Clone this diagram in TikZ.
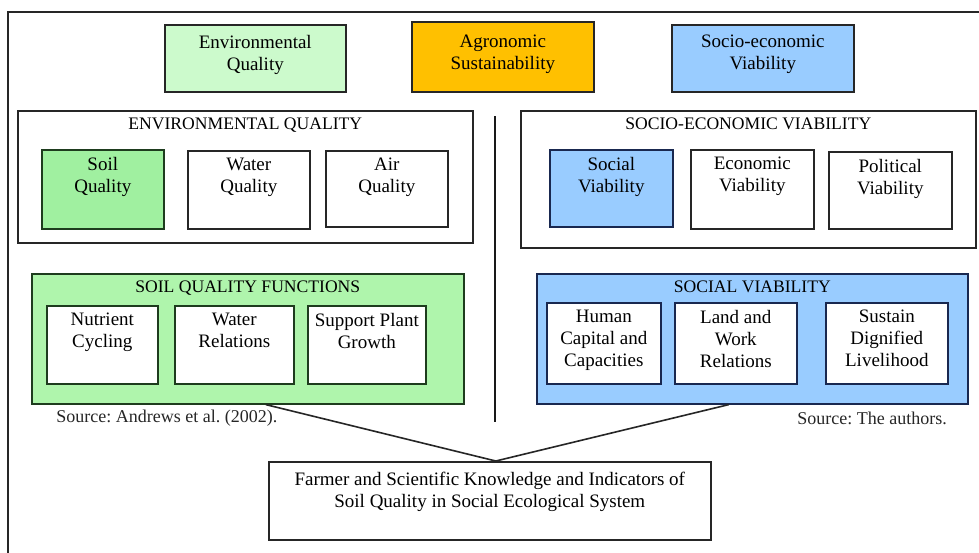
\documentclass[tikz,border=0pt]{standalone}
\usepackage{fontspec}
\setmainfont{Liberation Serif}
\usetikzlibrary{shapes}

\definecolor{envpale}{RGB}{204,250,204}
\definecolor{soilgreen}{RGB}{160,240,160}
\definecolor{soilfun}{RGB}{175,245,172}
\definecolor{agro}{RGB}{255,192,0}
\definecolor{socblue}{RGB}{153,204,255}
\definecolor{greendark}{RGB}{30,60,30}
\definecolor{bluedark}{RGB}{25,40,80}

\tikzset{
	box/.style = {
		draw=black!85,
		line width=0.8pt,
		inner sep=0pt,
		anchor=north west
	},
	size/.style 2 args = {
		minimum width=#1*0.5pt,
		minimum height=#2*0.5pt
	},
	lbl/.style = {
		anchor=north,
		align=center
	},
	txt/.style 2 args = {
		label={[lbl, yshift=#1]north:#2}
	},
	title/.style = {
		label={[lbl, yshift=-0.6pt, font=\fontsize{8.8}{11}\selectfont]north:#1}
	},
	box_green/.style = {
		box,
		draw=greendark,
		every label/.append style={text=greendark}
	},
	box_blue/.style = {
		box,
		draw=bluedark,
		every label/.append style={text=bluedark}
	},
	source/.style = {
		anchor=west,
		inner xsep=0pt,
		text=black!85,
		font=\fontsize{9}{11}\selectfont
	},
	link/.style = {
		line width=0.8pt,
		black!85
	}
}

\begin{document}
\frenchspacing
\begin{tikzpicture}[x=0.5pt, y=-0.5pt, font=\fontsize{9.5}{11}\selectfont]
\clip (0,0) rectangle (979,552);
\fill[white] (0,0) rectangle (979,552);
\draw[line width=1pt, black!85] (8,12) rectangle (1000,580);

% top row
\node[box, size={181}{67}, fill=envpale, txt={-2pt}{Environmental\\Quality}] (top_env) at (164,24) {};
\node[box, size={182}{70}, fill=agro, txt={-3.5pt}{Agronomic\\Sustainability}] (top_agro) at (411,21) {};
\node[box, size={182}{67}, fill=socblue, txt={-2pt}{Socio-economic\\Viability}] (top_soc) at (671,24) {};

% environmental quality
\node[box, size={455}{132}, title={ENVIRONMENTAL QUALITY}] (env_panel) at (17,110) {};
\node[box_green, size={122}{79}, fill=soilgreen, txt={-0.5pt}{Soil\\Quality}] (soil_q) at (41,149) {};
\node[box, size={122}{78}, txt={-0.5pt}{Water\\Quality}] (water_q) at (187,150) {};
\node[box, size={122}{76}, txt={-0.5pt}{Air\\Quality}] (air_q) at (325,150) {};

% socio-economic viability
\node[box, size={455}{137}, title={SOCIO-ECONOMIC VIABILITY}] (soc_panel) at (520,110) {};
\node[box_blue, size={123}{77}, fill=socblue, txt={-0.5pt}{Social\\Viability}] (social_v) at (549,149) {};
\node[box, size={123}{79}, txt={-0.5pt}{Economic\\Viability}] (econ_v) at (690,149) {};
\node[box, size={123}{77}, txt={-0.5pt}{Political\\Viability}] (pol_v) at (828,151) {};

% divider
\coordinate (div_top) at (495,116);
\coordinate (div_bot) at (495,422);
\draw[line width=1.4pt, black!90] (div_top) -- (div_bot);

% soil quality functions
\node[box_green, size={432}{130}, fill=soilfun, title={SOIL QUALITY FUNCTIONS}] (soil_f) at (31,273) {};
\node[box_green, size={111}{78}, fill=white, txt={-0.5pt}{Nutrient\\Cycling}] (nutr) at (46,305) {};
\node[box_green, size={119}{78}, fill=white, txt={-0.5pt}{Water\\Relations}] (water_r) at (174,305) {};
\node[box_green, size={118}{78}, fill=white, txt={-0.5pt}{Support Plant\\Growth}] (plant) at (307,305) {};

% social viability
\node[box_blue, size={431}{130}, fill=socblue, title={SOCIAL VIABILITY}] (social_f) at (536,273) {};
\node[box_blue, size={114}{81}, fill=white, txt={-0.5pt}{Human\\Capital and\\Capacities}] (human) at (546,302) {};
\node[box_blue, size={122}{81}, fill=white, txt={-0.5pt}{Land and\\Work\\Relations}] (land) at (674,302) {};
\node[box_blue, size={122}{81}, fill=white, txt={-0.5pt}{Sustain\\Dignified\\Livelihood}] (dign) at (825,302) {};

% sources
\node[source] (src_env) at (56,418) {Source: Andrews et al. (2002).};
\node[source] (src_soc) at (797,418) {Source: The authors.};

% knowledge box
\node[box, size={442}{78}, txt={-2pt}{Farmer and Scientific Knowledge and Indicators of\\Soil Quality in Social Ecological System}] (farmer) at (268,461) {};

\draw[link] ([xshift=9pt]soil_f.south) -- ([xshift=3pt]farmer.north) -- ([xshift=-11.75pt]social_f.south);
\end{tikzpicture}
\end{document}
